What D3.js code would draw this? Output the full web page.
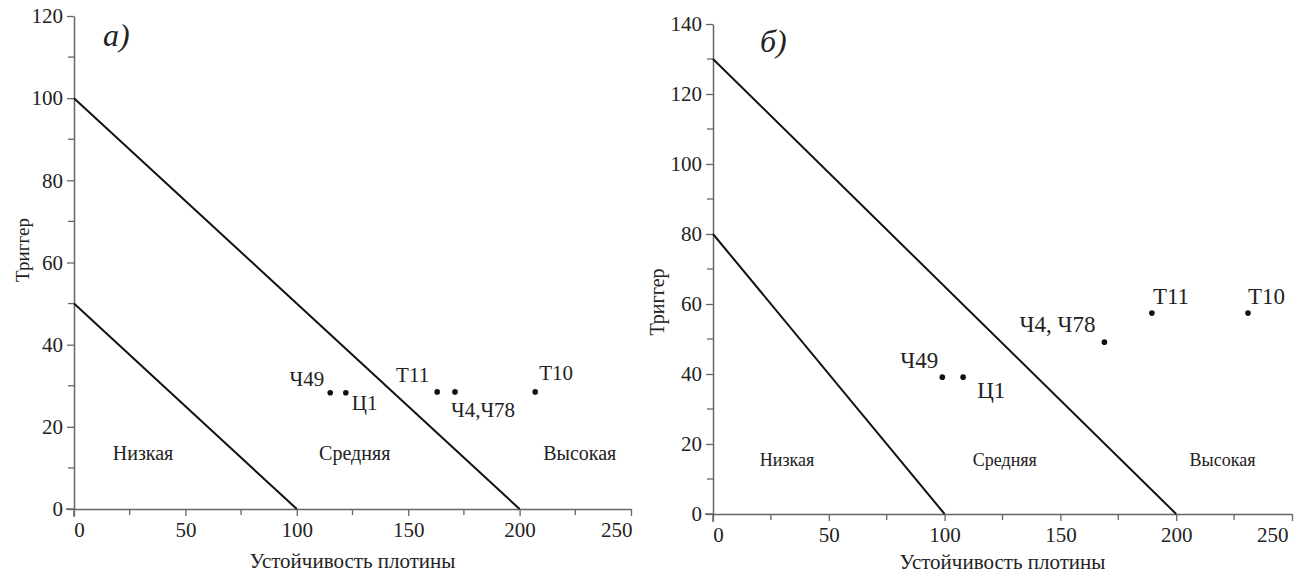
<!DOCTYPE html>
<html>
<head>
<meta charset="utf-8">
<script src="https://cdn.jsdelivr.net/npm/d3@7"></script>
<style>
  html, body { margin: 0; padding: 0; background: #fff; }
  svg { display: block; }
  text { font-family: "Liberation Serif", "Times New Roman", "DejaVu Serif", serif; fill: #222; }
</style>
</head>
<body>
<svg id="chart" width="1294" height="573"></svg>
<script>
// ---------- DATA ----------
const xTicks = [0, 50, 100, 150, 200, 250];
const xMinorTicks = [25, 75, 125, 175, 225];
const yTicksA = [0, 20, 40, 60, 80, 100, 120];
const yMinorTicksA = [10, 30, 50, 70, 90, 110];
const yTicksB = [0, 20, 40, 60, 80, 100, 120, 140];
const yMinorTicksB = [10, 30, 50, 70, 90, 110, 130];

const xTitle = "Устойчивость плотины";
const yTitle = "Триггер";
const panelTitles = ["а)", "б)"];
const zoneNames = ["Низкая", "Средняя", "Высокая"];

// boundary lines: [stability at trigger 0, trigger at stability 0]
const boundariesA = [[100, 50], [200, 100]];
const boundariesB = [[100, 80], [200, 130]];

// points
const namesA = ["Ч49", "Ц1", "Т11", "Ч4,Ч78", "Т10"];
const stabilityA = [115, 122, 163, 171, 207];
const triggerA = [28.3, 28.3, 28.5, 28.5, 28.5];

const namesB = ["Ч49", "Ц1", "Ч4, Ч78", "Т11", "Т10"];
const stabilityB = [99, 108, 169, 189.5, 231];
const triggerB = [39.1, 39.1, 49.1, 57.4, 57.4];

// zone label anchor positions (data coords)
const zoneXA = [31, 126, 227];
const zoneYA = 13;
const zoneXB = [32, 126, 220];
const zoneYB = 15;

// ---------- STYLE / LAYOUT ----------
const panels = [
  {
    xRange: [74, 631], yRange: [509, 16], yMax: 120,
    yTicks: yTicksA, yMinor: yMinorTicksA,
    bounds: boundariesA, names: namesA, sx: stabilityA, sy: triggerA,
    zoneX: zoneXA, zoneY: zoneYA, zoneSize: 20,
    labelSize: 21, lastTickDx: 1,
    labelOffsets: [[-6, -7, "end"], [6, 17, "start"], [-8, -10, "end"], [-4, 25, "start"], [4, -12, "start"]],
    title: panelTitles[0], titlePos: [103, 46],
    yTitlePos: [29, 250], yTitleSize: 19,
    xTitleY: 568
  },
  {
    xRange: [713, 1292], yRange: [514, 24], yMax: 140,
    yTicks: yTicksB, yMinor: yMinorTicksB,
    bounds: boundariesB, names: namesB, sx: stabilityB, sy: triggerB,
    zoneX: zoneXB, zoneY: zoneYB, zoneSize: 18,
    labelSize: 23, lastTickDx: -4,
    labelOffsets: [[-4, -9, "end"], [14, 21, "start"], [-9, -10, "end"], [1, -9, "start"], [0, -9, "start"]],
    title: panelTitles[1], titlePos: [760, 52],
    yTitlePos: [664, 302], yTitleSize: 20,
    xTitleY: 569
  }
];

const svg = d3.select("#chart");
const axisColor = "#666";

panels.forEach(p => {
  const x = d3.scaleLinear().domain([0, 250]).range(p.xRange);
  const y = d3.scaleLinear().domain([0, p.yMax]).range(p.yRange);
  const g = svg.append("g");

  // x axis
  const gx = g.append("g").attr("transform", `translate(0,${y(0)})`)
    .call(d3.axisBottom(x).tickValues(xTicks).tickSize(7).tickSizeOuter(0).tickPadding(6));
  gx.append("g").selectAll("line").data(xMinorTicks).join("line")
    .attr("x1", d => x(d)).attr("x2", d => x(d)).attr("y1", 0).attr("y2", 6)
    .attr("stroke", axisColor).attr("stroke-width", 1.3);
  gx.append("line").attr("x1", x(0) - 8).attr("x2", x(0)).attr("y1", 0).attr("y2", 0)
    .attr("stroke", axisColor).attr("stroke-width", 1.5);

  // y axis
  const gy = g.append("g").attr("transform", `translate(${x(0)},0)`)
    .call(d3.axisLeft(y).tickValues(p.yTicks).tickSize(7).tickSizeOuter(0).tickPadding(4));
  gy.append("g").selectAll("line").data(p.yMinor).join("line")
    .attr("y1", d => y(d)).attr("y2", d => y(d)).attr("x1", 0).attr("x2", -6)
    .attr("stroke", axisColor).attr("stroke-width", 1.3);
  gy.append("line").attr("x1", 0).attr("x2", 0).attr("y1", y(0)).attr("y2", y(0) + 8)
    .attr("stroke", axisColor).attr("stroke-width", 1.5);

  [gx, gy].forEach(a => {
    a.selectAll(".domain").attr("stroke", axisColor).attr("stroke-width", 1.5);
    a.selectAll(".tick line").attr("stroke", axisColor).attr("stroke-width", 1.3);
    a.selectAll(".tick text").attr("font-family", "Liberation Serif").attr("font-size", 21).attr("fill", "#222");
  });
  gx.selectAll(".tick text")
    .attr("dx", d => d === 0 ? 5 : (d === 250 ? p.lastTickDx : 0))
    .attr("text-anchor", d => d === 250 ? "end" : "middle");

  // boundary lines
  g.selectAll("line.bound").data(p.bounds).join("line").attr("class", "bound")
    .attr("x1", x(0)).attr("y1", d => y(d[1]))
    .attr("x2", d => x(d[0])).attr("y2", y(0))
    .attr("stroke", "#111").attr("stroke-width", 2);

  // points
  const pts = p.names.map((n, i) => ({ name: n, sx: p.sx[i], sy: p.sy[i], off: p.labelOffsets[i] }));
  g.selectAll("circle.pt").data(pts).join("circle").attr("class", "pt")
    .attr("cx", d => x(d.sx)).attr("cy", d => y(d.sy)).attr("r", 2.8).attr("fill", "#111");
  g.selectAll("text.pl").data(pts).join("text").attr("class", "pl")
    .attr("x", d => x(d.sx) + d.off[0]).attr("y", d => y(d.sy) + d.off[1])
    .attr("text-anchor", d => d.off[2])
    .attr("font-size", p.labelSize).text(d => d.name);

  // zone names
  g.selectAll("text.zone").data(zoneNames).join("text").attr("class", "zone")
    .attr("x", (d, i) => x(p.zoneX[i])).attr("y", y(p.zoneY))
    .attr("text-anchor", "middle").attr("dominant-baseline", "middle")
    .attr("font-size", p.zoneSize).text(d => d);

  // titles
  g.append("text").attr("x", p.titlePos[0]).attr("y", p.titlePos[1])
    .attr("font-size", 32).attr("font-style", "italic").text(p.title);
  g.append("text").attr("x", (p.xRange[0] + p.xRange[1]) / 2).attr("y", p.xTitleY)
    .attr("text-anchor", "middle").attr("font-size", 21).attr("fill", "#333").text(xTitle);
  g.append("text")
    .attr("transform", `translate(${p.yTitlePos[0]},${p.yTitlePos[1]}) rotate(-90)`)
    .attr("text-anchor", "middle").attr("font-size", p.yTitleSize).attr("fill", "#333").text(yTitle);
});
</script>
</body>
</html>
